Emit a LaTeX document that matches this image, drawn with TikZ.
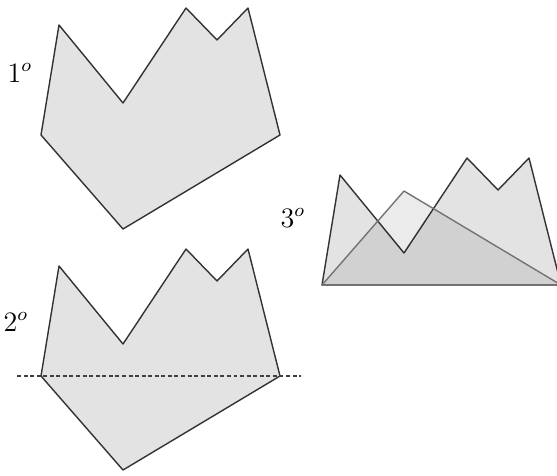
\documentclass[tikz,border=0pt]{standalone}
\usepackage{amsmath}
\usetikzlibrary{positioning}
\tikzset{
  crown/.style={draw=black!80,fill=black,fill opacity=0.11,draw opacity=1,
                line width=0.6pt,line join=round},
  flap/.style={draw=black!55,fill=black,fill opacity=0.08,draw opacity=1,
               line width=0.6pt,line join=round},
  cut/.style={draw=black!75,line width=0.5pt,dash pattern=on 1.7pt off 1.1pt},
  steplabel/.style={font=\fontsize{11.5}{13}\selectfont,inner sep=0pt},
}
% upper outline of the sheet, left corner to right corner
\newcommand{\crownup}{(41,135) -- (59,25) -- (123,103) -- (186,8) -- (217,40) -- (248,8) -- (280,135)}

\begin{document}
\begin{tikzpicture}[x=0.015cm,y=-0.015cm]
    \useasboundingbox (0,0) rectangle (557,475);

    % step 1
    \draw[crown] \crownup -- (123,229) -- cycle;
    \node[steplabel] (lbl1) at (20,73) {$1^o$};

    % step 2
    \begin{scope}[shift={(0,241)}]
      \draw[crown] \crownup -- (123,229) -- cycle;
      \coordinate (cutL) at (17,135);
      \coordinate (cutR) at (301,135);
    \end{scope}
    \draw[cut] (cutL) -- (cutR);
    \node[steplabel] (lbl2) at (16,322) {$2^o$};

    % step 3
    \begin{scope}[shift={(281,150)}]
      \draw[crown] \crownup -- cycle;
      \draw[flap] (41,135) -- (123,41) -- (280,135) -- cycle;
    \end{scope}
    \node[steplabel] (lbl3) at (293,218) {$3^o$};

\end{tikzpicture}
\end{document}
